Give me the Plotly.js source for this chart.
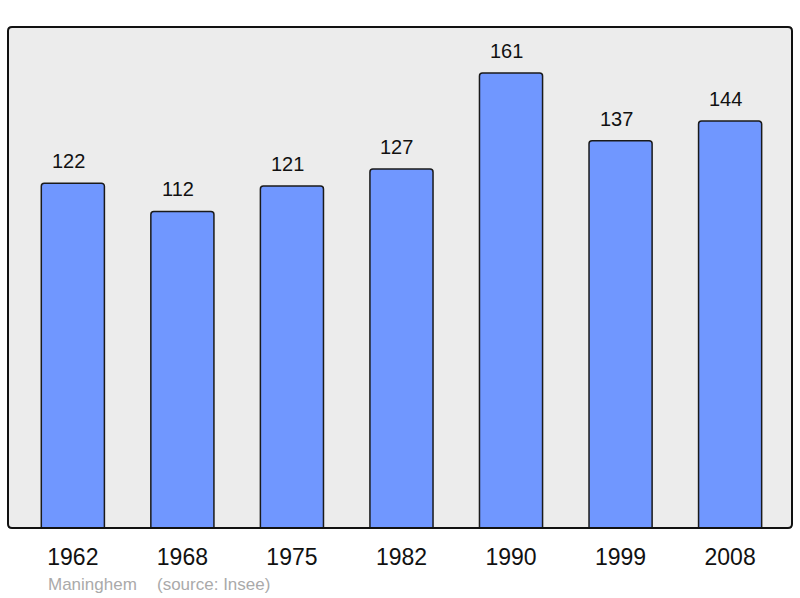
<!DOCTYPE html>
<html>
<head>
<meta charset="utf-8">
<script src="https://cdn.plot.ly/plotly-3.0.1.min.js"></script>
<style>html,body{margin:0;padding:0;background:#fff;}#chart{width:800px;height:598px;}</style>
</head>
<body>
<div id="chart"></div>
<script>
var years = ["1962", "1968", "1975", "1982", "1990", "1999", "2008"];
var population = [122, 112, 121, 127, 161, 137, 144];
var commune = "Maninghem";
var source = "(source: Insee)";

var W = 800, H = 598;
var margin = {l: 8, r: 8, t: 27, b: 70};
var pw = W - margin.l - margin.r, ph = H - margin.t - margin.b;

var trace = {
  type: "bar",
  x: years,
  y: population,
  width: 0.576,
  marker: {color: "#7097ff", line: {color: "#1a1a1a", width: 1.5}, cornerradius: 3},
  hoverinfo: "none"
};

var annotations = years.map(function (yr, i) {
  return {
    x: i, y: population[i], xref: "x", yref: "y",
    text: String(population[i]), showarrow: false,
    yanchor: "middle", yshift: 22, xshift: -4.5,
    font: {family: "Liberation Sans, Arial, sans-serif", size: 20, color: "#111"}
  };
});
annotations.push({
  xref: "paper", yref: "paper", x: (46 - margin.l) / pw, y: -(584 - (H - margin.b)) / ph,
  xanchor: "left", yanchor: "middle", showarrow: false, text: commune,
  font: {family: "Liberation Sans, Arial, sans-serif", size: 17, color: "#aaaaaa"}
});
annotations.push({
  xref: "paper", yref: "paper", x: (155 - margin.l) / pw, y: -(584 - (H - margin.b)) / ph,
  xanchor: "left", yanchor: "middle", showarrow: false, text: source,
  font: {family: "Liberation Sans, Arial, sans-serif", size: 17, color: "#aaaaaa"}
});

var rx = 4 / pw, ry = 4 / ph;
var path = "M " + rx + " 0 L " + (1 - rx) + " 0 Q 1 0 1 " + ry +
  " L 1 " + (1 - ry) + " Q 1 1 " + (1 - rx) + " 1 L " + rx + " 1 Q 0 1 0 " + (1 - ry) +
  " L 0 " + ry + " Q 0 0 " + rx + " 0 Z";

var layout = {
  width: W, height: H,
  margin: margin,
  paper_bgcolor: "#ffffff",
  plot_bgcolor: "#ececec",
  showlegend: false,
  xaxis: {
    type: "category", range: [-0.592, 6.565], fixedrange: true,
    showgrid: false, zeroline: false, showline: false, ticks: "",
    tickfont: {family: "Liberation Sans, Arial, sans-serif", size: 23, color: "#111"},
    ticklabelstandoff: 13
  },
  yaxis: {
    range: [0, 177.25], fixedrange: true,
    showgrid: false, zeroline: false, showline: false, showticklabels: false, ticks: ""
  },
  shapes: [{
    type: "path", xref: "paper", yref: "paper", path: path,
    line: {color: "#111", width: 2}, layer: "above"
  }],
  annotations: annotations
};

Plotly.newPlot("chart", [trace], layout, {displayModeBar: false, staticPlot: true});
</script>
</body>
</html>
